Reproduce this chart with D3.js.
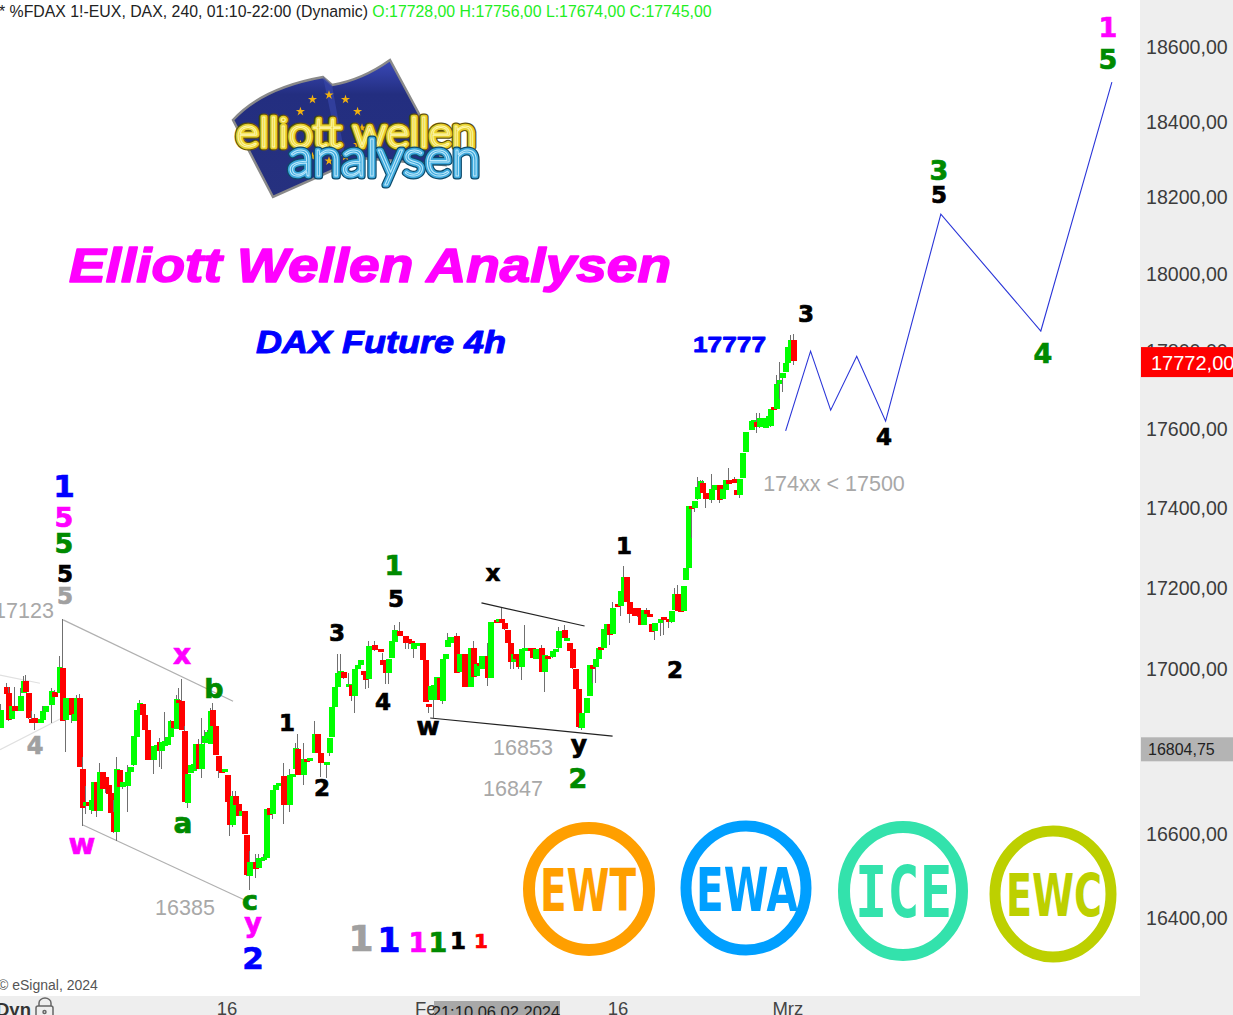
<!DOCTYPE html>
<html><head><meta charset="utf-8">
<style>html,body{margin:0;padding:0;background:#fff;overflow:hidden}svg{display:block}</style>
<script src="https://cdn.jsdelivr.net/npm/d3@7/dist/d3.min.js"></script>
</head><body><div id="c"></div>
<script>
const barIdx=[0,2,3,4,5,7,8,9,10,11,
12,14,15,16,18,19,21,22,23,25,
26,27,28,29,30,31,32,33,34,35,
36,37,38,39,40,41,42,43,45,46,
47,48,49,50,51,52,54,55,56,57,
58,59,60,61,62,63,64,65,66,67,
68,69,70,71,72,73,74,75,76,77,
78,79,80,81,82,83,84,85,86,87,
88,90,91,92,93,94,95,96,97,98,
100,102,103,104,105,107,108,109,111,112,
113,115,116,117,118,119,120,121,123,124,
125,126,127,128,129,130,132,134,135,136,
137,138,139,141,143,144,145,146,147,149,
150,151,152,153,154,155,156,157,158,159,
161,162,164,165,166,167,168,169,170,172,
173,175,176,177,178,179,180,181,182,183,
184,185,187,188,189,191,192,193,195,196,
197,199,200,201,202,203,204,205,207,208,
209,210,211,212,213,214,215,216,218,219,
220,221,222,224,225,226,227,228,229,230,
231,233,234,236,237,238,239,240,241,242,
243,244,245,246,247,248,249,251,252,254,
255,256,257,259,260,261,262,263,265,266,
267,268,270,271,272,273,274,275,276,277,
278,279,280];
const opens=[16856,16957,16942,16879,16910,16897,16942,16972,16942,16879,
16881,16870,16877,16897,16914,16945,16942,17004,16877,16930,
16875,16873,16930,16758,16667,16677,16656,16656,16726,16656,
16750,16738,16719,16699,16652,16603,16754,16713,16715,16750,
16765,16836,16901,16916,16888,16852,16779,16812,16822,16799,
16814,16814,16834,16873,16855,16926,16922,16850,16677,16748,
16750,16758,16817,16757,16818,16828,16818,16901,16862,16789,
16754,16752,16742,16677,16620,16691,16673,16644,16656,16597,
16501,16534,16518,16534,16542,16542,16664,16648,16707,16715,
16740,16669,16742,16757,16806,16743,16781,16779,16796,16841,
16796,16767,16796,16834,16908,16957,16992,16994,16961,16962,
16935,17000,17010,16997,16996,16975,17059,17049,17024,17018,
16992,17027,17069,17094,17082,17075,17069,17049,17061,17064,
17022,16916,16924,16924,16924,16979,16924,17026,17055,17065,
17083,16992,17037,17026,16957,17053,16982,17015,17002,17033,
16979,17122,17117,17125,17114,17098,17065,17018,17037,17026,
17006,17051,17053,17053,17027,17053,16993,17034,17029,17043,
17051,17096,17075,17065,17049,17002,16953,16856,16893,16934,
17011,17005,17025,17054,17052,17099,17113,17086,17162,17156,
17194,17228,17167,17151,17151,17132,17110,17147,17137,17113,
17095,17115,17128,17125,17115,17147,17186,17162,17143,17220,
17249,17407,17402,17422,17451,17464,17438,17422,17447,17459,
17422,17448,17472,17475,17447,17434,17476,17542,17600,17619,
17620,17604,17604,17630,17607,17656,17652,17716,17729,17747,
17769,17810,17828];
const closes=[16901,16941,16877,16910,16897,16934,16972,16946,16881,16870,
16870,16879,16899,16911,16948,16932,17005,16875,16930,16889,
16891,16930,16763,16664,16677,16667,16681,16726,16656,16750,
16709,16709,16697,16652,16603,16756,16713,16726,16750,16763,
16836,16901,16918,16888,16851,16779,16813,16816,16799,16822,
16825,16834,16873,16855,16928,16922,16851,16678,16746,16767,
16768,16817,16757,16818,16836,16846,16899,16862,16791,16752,
16752,16756,16678,16622,16691,16670,16644,16656,16601,16501,
16534,16518,16542,16542,16545,16660,16648,16707,16718,16723,
16669,16742,16745,16807,16742,16782,16777,16783,16841,16796,
16771,16775,16832,16908,16957,16992,16996,16980,16963,16935,
17000,17010,17022,16988,16974,17057,17046,17045,17012,16992,
17026,17069,17098,17082,17065,17064,17065,17065,17065,17023,
16920,16910,16959,16961,16981,16924,17026,17038,17073,17079,
16992,17037,16957,17012,17053,16982,17012,17008,17034,16979,
17117,17117,17125,17114,17098,17067,17018,17037,17024,17006,
17051,17053,17051,17029,17051,16993,17035,17029,17045,17049,
17094,17076,17078,17046,17002,16953,16859,16893,16930,17011,
17001,17025,17052,17050,17099,17113,17086,17151,17155,17194,
17228,17167,17137,17132,17130,17110,17147,17136,17132,17093,
17115,17125,17121,17117,17143,17186,17143,17142,17206,17251,
17405,17402,17419,17453,17468,17438,17422,17449,17459,17420,
17448,17472,17461,17465,17434,17475,17539,17594,17622,17624,
17607,17628,17630,17635,17651,17651,17716,17726,17743,17769,
17810,17828,17773];
const highs=[16914,16967,16957,16910,16957,16955,16983,16985,16942,16897,
16891,16879,16910,16911,16955,16950,17034,17124,16930,16930,
16891,16938,16940,16787,16715,16677,16689,16726,16726,16771,
16750,16738,16719,16699,16681,16787,16754,16726,16767,16763,
16836,16901,16926,16916,16888,16852,16813,16816,16832,16822,
16895,16834,16877,16873,16938,16955,16977,16861,16746,16767,
16768,16817,16831,16881,16852,16852,16905,16918,16862,16789,
16754,16756,16742,16677,16705,16705,16673,16656,16656,16597,
16560,16553,16553,16542,16553,16660,16664,16707,16718,16723,
16771,16758,16745,16820,16841,16820,16781,16783,16873,16843,
16796,16775,16832,16908,16957,17037,17037,16994,16992,16962,
17000,17010,17022,16997,16996,17069,17069,17049,17041,17018,
17026,17069,17110,17117,17082,17075,17069,17065,17065,17064,
17022,16916,16959,16961,16981,16979,17026,17038,17090,17079,
17090,17037,17037,17026,17053,17069,17012,17015,17034,17065,
17117,17122,17125,17151,17114,17098,17065,17037,17037,17026,
17051,17110,17053,17053,17051,17061,17035,17034,17045,17049,
17104,17110,17078,17065,17049,17002,16953,16893,16930,17011,
17011,17025,17052,17054,17099,17113,17113,17167,17162,17194,
17256,17228,17167,17151,17151,17132,17147,17151,17137,17113,
17115,17125,17128,17125,17143,17202,17208,17162,17206,17251,
17405,17407,17419,17480,17472,17472,17438,17486,17459,17459,
17448,17472,17501,17480,17447,17475,17539,17594,17622,17624,
17641,17641,17630,17645,17651,17656,17739,17773,17743,17799,
17810,17841,17845];
const lows=[16856,16941,16873,16877,16897,16897,16942,16946,16879,16869,
16851,16870,16877,16897,16869,16932,16942,16875,16799,16869,
16875,16873,16763,16620,16648,16667,16648,16656,16640,16656,
16709,16700,16697,16652,16603,16584,16713,16708,16652,16750,
16765,16836,16901,16888,16851,16779,16746,16812,16763,16758,
16814,16814,16834,16855,16855,16922,16851,16677,16663,16748,
16750,16758,16757,16734,16818,16828,16818,16862,16791,16734,
16752,16752,16678,16595,16616,16670,16644,16644,16601,16501,
16466,16495,16518,16534,16542,16542,16648,16636,16707,16715,
16624,16652,16742,16757,16742,16718,16777,16779,16796,16796,
16738,16734,16788,16834,16908,16957,16992,16977,16961,16922,
16894,17000,17010,16988,16953,16955,17046,17045,17012,16965,
16965,17027,17069,17082,17049,17051,17065,17029,17061,17023,
16920,16892,16924,16881,16924,16924,16914,17026,17055,17065,
16992,16992,16957,17012,16957,16982,16982,17008,17002,16959,
16979,17117,17117,17114,17098,17067,17000,17000,17024,17000,
16974,17051,17051,17029,17027,16993,16944,17029,17029,17043,
17051,17076,17075,17046,17002,16953,16856,16852,16893,16934,
16966,16966,17025,17050,17052,17099,17060,17086,17155,17132,
17194,17167,17114,17132,17130,17110,17110,17136,17132,17093,
17073,17081,17085,17101,17115,17147,17143,17142,17143,17220,
17249,17325,17390,17422,17451,17438,17401,17413,17447,17413,
17422,17448,17461,17465,17434,17426,17476,17542,17600,17619,
17592,17604,17604,17630,17607,17651,17652,17677,17696,17747,
17769,17810,17764];

const priceTicks=[16400,16600,16800,17000,17200,17400,17600,17800,18000,18200,18400,18600];
const timeTickBars=[80,152,218,278];
const timeTickLabels=["16","Feb","16","Mrz"];
const lastPrice=17772, markerPrice=16804.75;
const forecastBars=[277.4,286.2,293.3,302.5,312.7,332.2,367.5,392.6];
const forecastPrices=[17596,17800,17649,17787,17621,18156,17852,18506];
const channelLines=[
 {bars:[22.3,82.3],prices:[17122,16922],color:"#b0b0b0"},
 {bars:[29.3,86.6],prices:[16622,16442],color:"#b0b0b0"},
 {bars:[0,14.1],prices:[16986,16966],color:"#e0e0e0"},
 {bars:[0,21.9],prices:[16804,16881],color:"#e0e0e0"},
 {bars:[170,206.4],prices:[17164,17107],color:"#222"},
 {bars:[151.9,216.3],prices:[16881,16837],color:"#222"}
];
const BLK="#000",GRN="#008a00",MAG="#ff00ff",BLU="#0000ff",GRY="#a0a0a0",RED="#ff0000";
const waveLabels=[
["1",64,486,BLU,31],["5",64,517,MAG,27],["5",64,543,GRN,27],["5",65,574,BLK,23],["5",65,596,GRY,23],
["4",35,746,GRY,24],["x",182,654,MAG,28],["b",214,688,GRN,27],["w",82,844,MAG,29],["a",183,823,GRN,28],
["1",287,723,BLK,23],["2",322,788,BLK,23],["3",337,633,BLK,23],["4",383,702,BLK,23],["5",396,599,BLK,23],
["1",394,565,GRN,27],["x",493,573,BLK,23],["w",428,726,BLK,25],["y",579,744,BLK,25],["2",578,778,GRN,27],
["1",624,546,BLK,23],["2",675,670,BLK,23],["3",806,314,BLK,23],["4",884,437,BLK,23],["5",939,195,BLK,23],
["3",939,170,GRN,27],["4",1043,353,GRN,27],["1",1108,27,MAG,27],["5",1108,59,GRN,27],
["c",250,900,GRN,27],["y",253,922,MAG,27],["2",253,958,BLU,31],
["1",361,938,GRY,36],["1",389,940,BLU,33],["1",418,942,MAG,27],["1",438,942,GRN,27],["1",458,941,BLK,23],["1",481,941,RED,20]
];
const priceNotes=[["17123",24,611],["16385",185,908],["16853",523,748],["16847",513,789],["174xx < 17500",834,484]];
const badges=[
 {t:"EWT",font:"'DejaVu Sans'",cx:589,cy:889,rx:60,ry:61,sw:12,c:"#ff9f00",fs:58,tx:540,tw:96,by:911},
 {t:"EWA",font:"'DejaVu Sans'",cx:746,cy:888,rx:60,ry:62,sw:11,c:"#009fff",fs:60,tx:696,tw:102,by:911},
 {t:"ICE",font:"'DejaVu Sans Mono'",cx:903,cy:891,rx:59,ry:64,sw:12,c:"#33e2ac",fs:72,tx:855,tw:97,by:917},
 {t:"EWC",font:"'DejaVu Sans'",cx:1053,cy:894,rx:58,ry:63,sw:11,c:"#bdd000",fs:58,tx:1006,tw:96,by:916}
];

const W=1233,H=1015,plotR=1140,plotB=996;
const svg=d3.select("#c").append("svg").attr("width",W).attr("height",H).attr("viewBox",`0 0 ${W} ${H}`);
const x=d3.scaleLinear().domain([0,280]).range([0,793]);
const y=d3.scaleLog().domain([16400,18600]).range([918,47]);
const bodyW=6;
const SANS="'Liberation Sans',Arial,sans-serif", DJ="'DejaVu Sans',Verdana,sans-serif";

svg.append("rect").attr("width",W).attr("height",H).attr("fill","#fff");
svg.append("rect").attr("x",plotR).attr("width",W-plotR).attr("height",H).attr("fill","#eeeeee");
svg.append("rect").attr("y",plotB).attr("width",W).attr("height",H-plotB).attr("fill","#eeeeee");

// channel lines
const lineGen=d3.line();
channelLines.forEach(l=>{
 svg.append("path").attr("d",lineGen(l.bars.map((b,i)=>[x(b),y(l.prices[i])]))).attr("fill","none").attr("stroke",l.color).attr("stroke-width",1.2);
});

// candles
const cdata=barIdx.map((b,i)=>({b,o:opens[i],c:closes[i],h:highs[i],l:lows[i]}));
const g=svg.append("g").attr("shape-rendering","crispEdges").selectAll("g").data(cdata).join("g");
g.append("line").attr("x1",d=>Math.round(x(d.b))+0.5).attr("x2",d=>Math.round(x(d.b))+0.5).attr("y1",d=>y(d.h)).attr("y2",d=>y(d.l)).attr("stroke","#707070").attr("stroke-width",1);
g.append("rect").attr("x",d=>Math.round(x(d.b))-2.5).attr("width",bodyW)
 .attr("y",d=>Math.round(y(Math.max(d.o,d.c)))).attr("height",d=>Math.max(3,Math.round(Math.abs(y(d.o)-y(d.c)))))
 .attr("fill",d=>d.c>=d.o?"#00ff00":"#ff0000");

// forecast
svg.append("path").attr("d",d3.line().x((d,i)=>x(d)).y((d,i)=>y(forecastPrices[i]))(forecastBars))
 .attr("fill","none").attr("stroke","#2a35d8").attr("stroke-width",1.1);

// logo
const logo=svg.append("g");
const defs=svg.append("defs");
const lg=defs.append("linearGradient").attr("id","flagG").attr("x1","0").attr("y1","0").attr("x2","0").attr("y2","1");
lg.append("stop").attr("offset","0").attr("stop-color","#3a49b8");
lg.append("stop").attr("offset","0.25").attr("stop-color","#232e80");
lg.append("stop").attr("offset","1").attr("stop-color","#26317f");
logo.append("path").attr("d","M233,120 Q262,88 323,77 L332,85 Q362,80 390,60 L418,112 L445,165 L360,158 L273,197 Z")
 .attr("fill","url(#flagG)").attr("stroke","#8a8a8a").attr("stroke-width",2.5);
logo.append("path").attr("d","M323,77 L332,85 Q338,120 345,155 L338,150 Q330,110 323,77Z").attr("fill","#3846a8").attr("opacity",.7);
const star=d3.symbol().type(d3.symbolStar).size(26);
d3.range(12).forEach(k=>{const a=k/12*2*Math.PI;
 logo.append("path").attr("d",star()).attr("fill","#f2b10f").attr("transform",`translate(${329+33*Math.cos(a)},${128+33*Math.sin(a)})`);});
function tube(txt,tx,by,fs,tw,dark,mid,light){
 [[7,dark],[4.6,mid],[1,light]].forEach(([sw,c])=>{
  logo.append("text").text(txt).attr("x",tx).attr("y",by).attr("font-family","Lato,sans-serif").attr("font-size",fs).attr("font-weight",300)
   .attr("textLength",tw).attr("lengthAdjust","spacingAndGlyphs").attr("fill","none").attr("stroke",c).attr("stroke-width",sw).attr("stroke-linejoin","round");
 });
}
tube("elliott wellen",236,147,42,240,"#5f5208","#e6cf2e","#fff7a8");
tube("analysen",288,176,52,192,"#0c4a6a","#3fa9dc","#bfeafc");

// titles
const hv=(sel,sw,c)=>sel.attr("fill",c).attr("stroke",c).attr("stroke-width",sw).attr("stroke-linejoin","round");
hv(svg.append("text").text("Elliott Wellen Analysen").attr("x",69).attr("y",282).attr("font-family",SANS).attr("font-weight",700).attr("font-style","italic").attr("font-size",49).attr("textLength",602).attr("lengthAdjust","spacingAndGlyphs"),1.6,"#ff00ff");
hv(svg.append("text").text("DAX Future 4h").attr("x",256).attr("y",353).attr("font-family",SANS).attr("font-weight",700).attr("font-style","italic").attr("font-size",32).attr("textLength",250).attr("lengthAdjust","spacingAndGlyphs"),1,"#0000ff");
hv(svg.append("text").text("17777").attr("x",693).attr("y",352).attr("font-family",SANS).attr("font-weight",700).attr("font-size",22).attr("textLength",73).attr("lengthAdjust","spacingAndGlyphs"),0.8,"#0000ff");

// header
const hdr=svg.append("text").attr("x",-1).attr("y",17).attr("font-family",SANS).attr("font-size",15.85);
hdr.append("tspan").text("* %FDAX 1!-EUX, DAX, 240, 01:10-22:00 (Dynamic) ").attr("fill","#222");
hdr.append("tspan").text("O:17728,00 H:17756,00 L:17674,00 C:17745,00").attr("fill","#22ee22");

// wave labels
svg.append("g").selectAll("text").data(waveLabels).join("text").text(d=>d[0]).attr("x",d=>d[1]).attr("y",d=>d[2])
 .attr("text-anchor","middle").attr("dominant-baseline","central").attr("font-family",DJ).attr("font-weight",700)
 .attr("font-size",d=>d[4]).attr("fill",d=>d[3]).attr("stroke",d=>d[3]).attr("stroke-width",0.7);
svg.append("g").selectAll("text").data(priceNotes).join("text").text(d=>d[0]).attr("x",d=>d[1]).attr("y",d=>d[2])
 .attr("text-anchor","middle").attr("dominant-baseline","central").attr("font-family",SANS).attr("font-size",21.5).attr("fill","#a8a8a8");

// badges
const bg=svg.append("g").selectAll("g").data(badges).join("g");
bg.append("ellipse").attr("cx",d=>d.cx).attr("cy",d=>d.cy).attr("rx",d=>d.rx).attr("ry",d=>d.ry).attr("fill","#fff").attr("stroke",d=>d.c).attr("stroke-width",d=>d.sw);
bg.append("text").text(d=>d.t).attr("x",d=>d.tx).attr("y",d=>d.by).attr("font-family",d=>d.font+",monospace").attr("font-weight",700)
 .attr("font-size",d=>d.fs).attr("textLength",d=>d.tw).attr("lengthAdjust","spacingAndGlyphs").attr("fill",d=>d.c);

// footer
svg.append("text").text("© eSignal, 2024").attr("x",-2).attr("y",990).attr("font-family",SANS).attr("font-size",14).attr("fill","#555");

// right axis
const yAxis=d3.axisRight(y).tickValues(priceTicks).tickSize(0).tickPadding(0).tickFormat(d=>d3.format(".2f")(d).replace(".",","));
const ya=svg.append("g").attr("transform","translate(1146,0)").call(yAxis);
ya.select(".domain").remove();
ya.selectAll("text").attr("font-family",SANS).attr("font-size",19.6).attr("fill","#3c3c3c");

// bottom axis
const xAxis=d3.axisBottom(x).tickValues(timeTickBars).tickSize(0).tickPadding(0).tickFormat((d,i)=>timeTickLabels[i]);
const xa=svg.append("g").attr("transform","translate(0,1002)").call(xAxis);
xa.select(".domain").remove();
xa.selectAll("text").attr("font-family",SANS).attr("font-size",18.5).attr("fill","#444");
svg.append("text").text("Dyn").attr("x",-4).attr("y",1016).attr("font-family",SANS).attr("font-weight",700).attr("font-size",18.5).attr("fill","#333");
const lock=svg.append("g").attr("fill","none").attr("stroke","#666").attr("stroke-width",1.5);
lock.append("path").attr("d","M39,1006 V1003 a6,5 0 0 1 12,0 V1006");
lock.append("rect").attr("x",36).attr("y",1006).attr("width",17).attr("height",12).attr("rx",2);
lock.append("circle").attr("cx",44.5).attr("cy",1012).attr("r",1.5);

// crosshair time label
svg.append("rect").attr("x",434).attr("y",1001).attr("width",126).attr("height",14).attr("fill","#a8a8a8");
svg.append("text").text("21:10 06.02.2024").attr("x",496).attr("y",1018).attr("text-anchor","middle").attr("font-family",SANS).attr("font-size",16.5).attr("fill","#222");

// price labels
svg.append("rect").attr("x",1141).attr("y",y(lastPrice)-15).attr("width",92).attr("height",30).attr("fill","#ff0000");
svg.append("text").text(d3.format(".2f")(lastPrice).replace(".",",")).attr("x",1151).attr("y",y(lastPrice)+8).attr("font-family",SANS).attr("font-size",20).attr("fill","#fff");
svg.append("rect").attr("x",1141).attr("y",y(markerPrice)-12).attr("width",92).attr("height",24).attr("fill","#b4b4b4");
svg.append("text").text(d3.format(".2f")(markerPrice).replace(".",",")).attr("x",1148).attr("y",y(markerPrice)+6).attr("font-family",SANS).attr("font-size",16).attr("fill","#222");
</script></body></html>
